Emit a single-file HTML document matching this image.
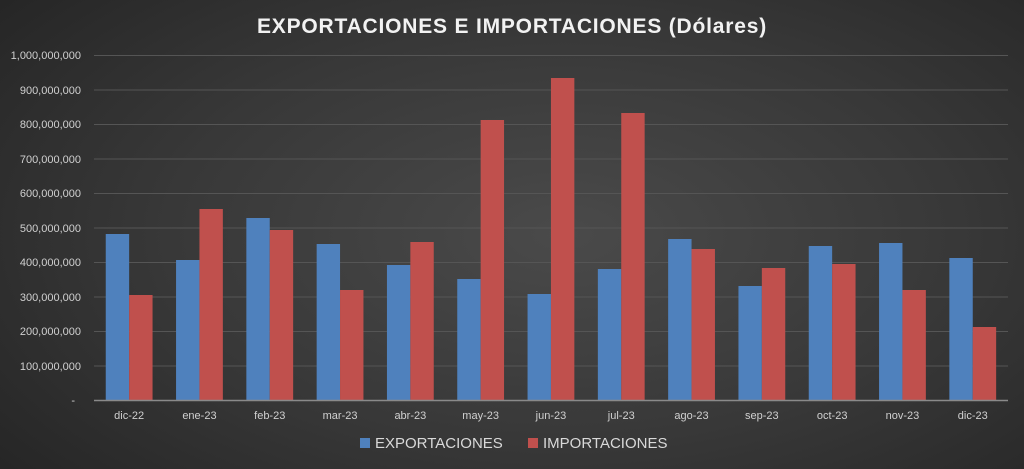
<!DOCTYPE html>
<html><head><meta charset="utf-8"><style>
html,body{margin:0;padding:0;width:1024px;height:469px;overflow:hidden}
body{background:radial-gradient(ellipse 70% 80% at 55% 50%,#4a4a4a 0%,#383838 55%,#262626 100%);font-family:"Liberation Sans",sans-serif}
</style></head><body>
<svg width="1024" height="469" xmlns="http://www.w3.org/2000/svg" style="position:absolute;left:0;top:0">
<text x="512" y="33" text-anchor="middle" fill="#f2f2f2" font-family="Liberation Sans" font-weight="bold" font-size="21" letter-spacing="0.8">EXPORTACIONES E IMPORTACIONES (Dólares)</text>
<g stroke="#555" stroke-width="1">
<line x1="94" x2="1008" y1="55.5" y2="55.5"/><line x1="94" x2="1008" y1="90" y2="90"/><line x1="94" x2="1008" y1="124.5" y2="124.5"/><line x1="94" x2="1008" y1="159" y2="159"/><line x1="94" x2="1008" y1="193.5" y2="193.5"/><line x1="94" x2="1008" y1="228" y2="228"/><line x1="94" x2="1008" y1="262.5" y2="262.5"/><line x1="94" x2="1008" y1="297" y2="297"/><line x1="94" x2="1008" y1="331.5" y2="331.5"/><line x1="94" x2="1008" y1="366" y2="366"/>
</g>
<g fill="#d0d0d0" font-size="11" text-anchor="end" font-family="Liberation Sans">
<text x="81" y="59">1,000,000,000</text><text x="81" y="94">900,000,000</text><text x="81" y="128">800,000,000</text><text x="81" y="163">700,000,000</text><text x="81" y="197">600,000,000</text><text x="81" y="232">500,000,000</text><text x="81" y="266">400,000,000</text><text x="81" y="301">300,000,000</text><text x="81" y="335">200,000,000</text><text x="81" y="370">100,000,000</text><text x="75" y="404">-</text>
</g>
<g fill="#4f81bd">
<rect x="105.75" y="234" width="23.4" height="166"/>
<rect x="176.05" y="260" width="23.4" height="140"/>
<rect x="246.35" y="218" width="23.4" height="182"/>
<rect x="316.65" y="244" width="23.4" height="156"/>
<rect x="386.95" y="265" width="23.4" height="135"/>
<rect x="457.25" y="279" width="23.4" height="121"/>
<rect x="527.55" y="294" width="23.4" height="106"/>
<rect x="597.85" y="269" width="23.4" height="131"/>
<rect x="668.15" y="239" width="23.4" height="161"/>
<rect x="738.45" y="286" width="23.4" height="114"/>
<rect x="808.75" y="246" width="23.4" height="154"/>
<rect x="879.05" y="243" width="23.4" height="157"/>
<rect x="949.35" y="258" width="23.4" height="142"/>
</g>
<g fill="#c0504d">
<rect x="129.15" y="295" width="23.4" height="105"/>
<rect x="199.45" y="209" width="23.4" height="191"/>
<rect x="269.75" y="230" width="23.4" height="170"/>
<rect x="340.05" y="290" width="23.4" height="110"/>
<rect x="410.35" y="242" width="23.4" height="158"/>
<rect x="480.65" y="120" width="23.4" height="280"/>
<rect x="550.95" y="78" width="23.4" height="322"/>
<rect x="621.25" y="113" width="23.4" height="287"/>
<rect x="691.55" y="249" width="23.4" height="151"/>
<rect x="761.85" y="268" width="23.4" height="132"/>
<rect x="832.15" y="264" width="23.4" height="136"/>
<rect x="902.45" y="290" width="23.4" height="110"/>
<rect x="972.75" y="327" width="23.4" height="73"/>
</g>
<line x1="94" x2="1008" y1="400.5" y2="400.5" stroke="#8a8a8a" stroke-width="1.5"/>
<g fill="#d0d0d0" font-size="11" text-anchor="middle" font-family="Liberation Sans">
<text x="129.15" y="419">dic-22</text><text x="199.45" y="419">ene-23</text><text x="269.75" y="419">feb-23</text><text x="340.05" y="419">mar-23</text><text x="410.35" y="419">abr-23</text><text x="480.65" y="419">may-23</text><text x="550.95" y="419">jun-23</text><text x="621.25" y="419">jul-23</text><text x="691.55" y="419">ago-23</text><text x="761.85" y="419">sep-23</text><text x="832.15" y="419">oct-23</text><text x="902.45" y="419">nov-23</text><text x="972.75" y="419">dic-23</text>
</g>
<rect x="360" y="438" width="10" height="10" fill="#4f81bd"/>
<text x="375" y="448" fill="#d9d9d9" font-size="15" font-family="Liberation Sans">EXPORTACIONES</text>
<rect x="528" y="438" width="10" height="10" fill="#c0504d"/>
<text x="543" y="448" fill="#d9d9d9" font-size="15" font-family="Liberation Sans">IMPORTACIONES</text>
</svg>
</body></html>
